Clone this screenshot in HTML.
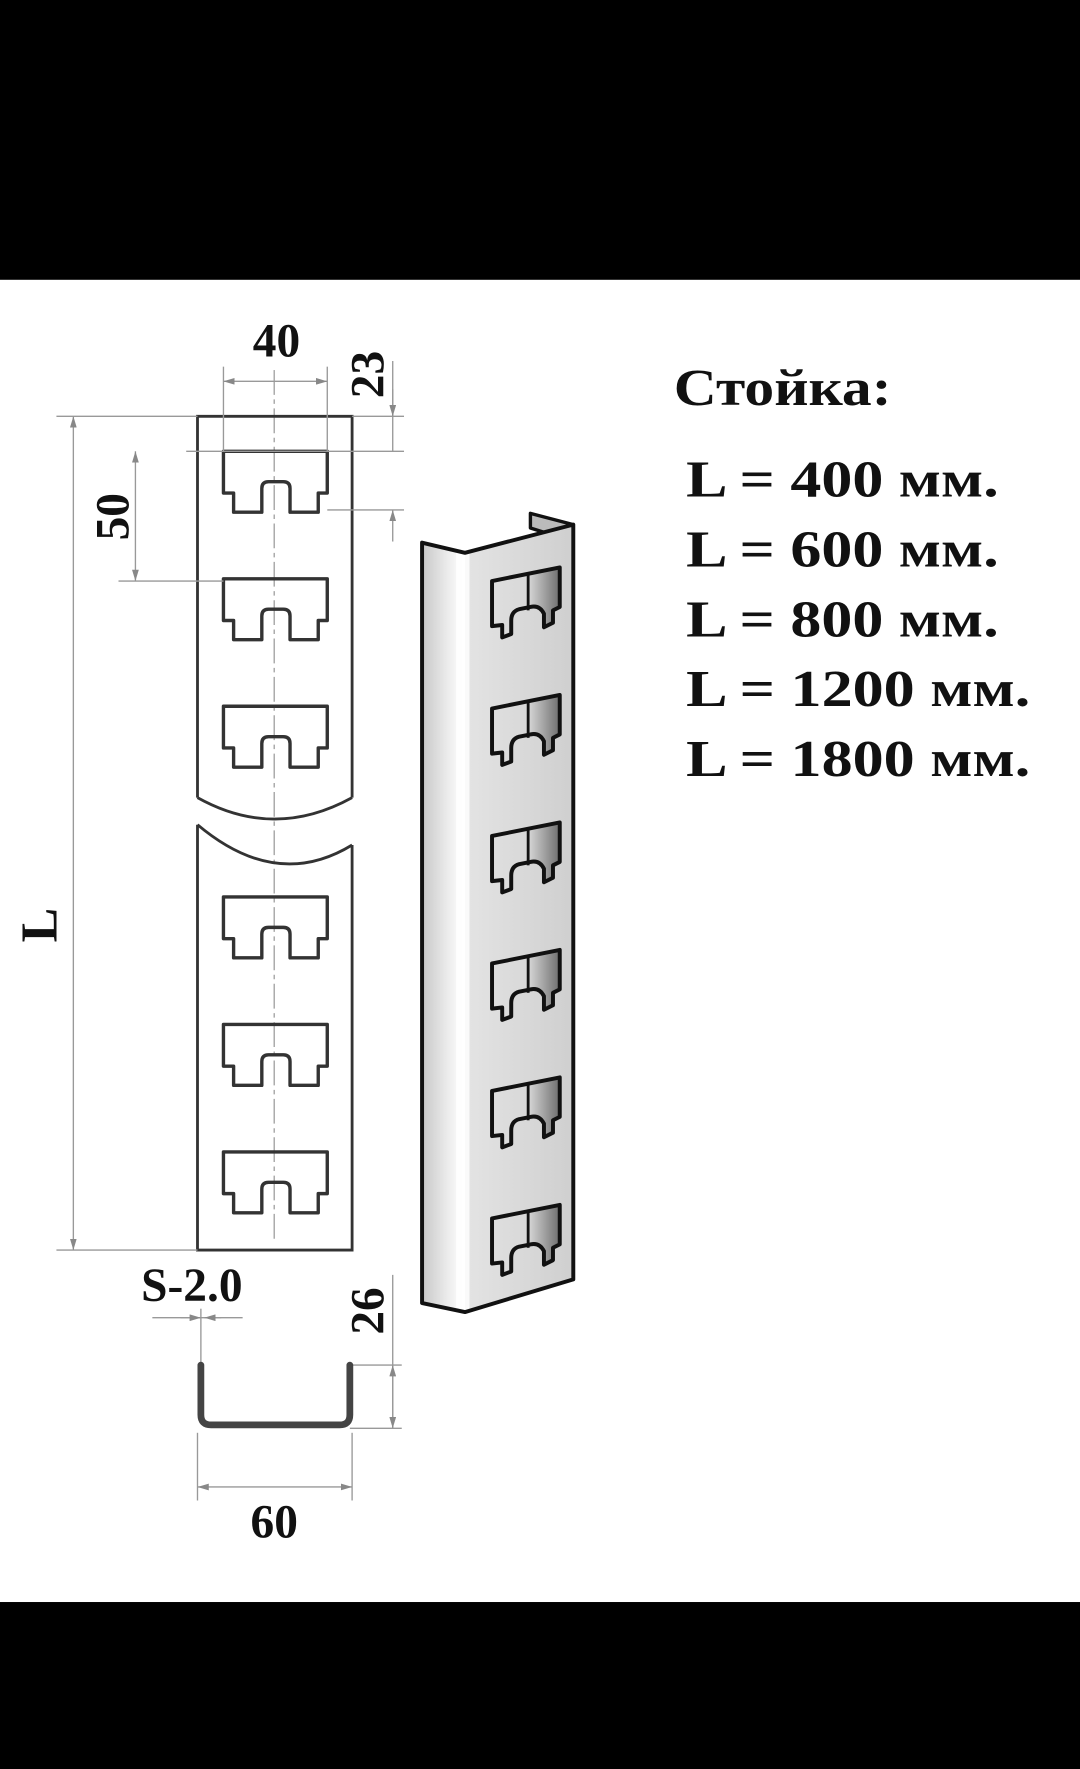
<!DOCTYPE html>
<html><head><meta charset="utf-8"><style>
html,body{margin:0;padding:0;background:#fff;}
svg{display:block;}
</style></head><body>
<svg width="1080" height="1769" viewBox="0 0 957 1568" preserveAspectRatio="none" xmlns="http://www.w3.org/2000/svg">
<defs>
<linearGradient id="gl" x1="0" x2="1"><stop offset="0" stop-color="#c8c8c8"/><stop offset="0.6" stop-color="#ececec"/><stop offset="1" stop-color="#ffffff"/></linearGradient>
<linearGradient id="gr" x1="0" x2="1"><stop offset="0" stop-color="#e4e4e4"/><stop offset="1" stop-color="#cfcfcf"/></linearGradient>
<linearGradient id="gs" x1="0" x2="1"><stop offset="0" stop-color="#d8d8d8"/><stop offset="1" stop-color="#6e6e6e"/></linearGradient>
<marker id="ar" viewBox="0 0 10 6" refX="10" refY="3" markerWidth="10" markerHeight="6" orient="auto-start-reverse" markerUnits="userSpaceOnUse"><path d="M0,0 L10,3 L0,6 Z" fill="#888"/></marker>
</defs>
<rect x="0" y="0" width="957" height="1568" fill="#fff"/>
<rect x="0" y="0" width="957" height="248" fill="#000"/>
<rect x="0" y="1420" width="957" height="148" fill="#000"/>

<line x1="243" y1="328" x2="243" y2="1100" stroke="#aaa" stroke-width="1.3" stroke-dasharray="22,4,4,4"/>

<g fill="none" stroke="#333" stroke-width="2.5">
<path d="M175,707 V369 H312 V707"/>
<path d="M175,707 Q243,745 312,707"/>
<path d="M175,731 Q245,790 312,749"/>
<path d="M175,731 V1108 H312 V749"/>
</g>
<g fill="none" stroke="#333" stroke-width="3" stroke-linejoin="round">
<path id="slot" d="M198,400 H290 V437 H282 V454 H257 V433 Q257,427 251,427 H238 Q232,427 232,433 V454 H207 V437 H198 Z"/>
<use href="#slot" y="113"/>
<use href="#slot" y="226"/>
<use href="#slot" y="395"/>
<use href="#slot" y="508"/>
<use href="#slot" y="621"/>
</g>

<g stroke="#999" stroke-width="1.2" fill="none">
<line x1="198" y1="325" x2="198" y2="400"/><line x1="290" y1="325" x2="290" y2="400"/>
<line x1="198" y1="338" x2="290" y2="338" marker-start="url(#ar)" marker-end="url(#ar)"/>
<line x1="312" y1="369" x2="358" y2="369"/>
<line x1="165" y1="400" x2="358" y2="400"/>
<line x1="290" y1="452" x2="358" y2="452"/>
<line x1="348" y1="320" x2="348" y2="369"/>
<line x1="348" y1="345" x2="348" y2="369" marker-end="url(#ar)"/>
<line x1="348" y1="369" x2="348" y2="400"/>
<line x1="348" y1="480" x2="348" y2="452" marker-end="url(#ar)"/>
<line x1="105" y1="515" x2="198" y2="515"/>
<line x1="120" y1="400" x2="120" y2="515" marker-start="url(#ar)" marker-end="url(#ar)"/>
<line x1="50" y1="369" x2="175" y2="369"/>
<line x1="50" y1="1108" x2="175" y2="1108"/>
<line x1="65" y1="369" x2="65" y2="1108" marker-start="url(#ar)" marker-end="url(#ar)"/>
<line x1="135" y1="1168" x2="215" y2="1168"/>
<line x1="160" y1="1168" x2="178" y2="1168" marker-end="url(#ar)"/>
<line x1="196" y1="1168" x2="181" y2="1168" marker-end="url(#ar)"/>
<line x1="178" y1="1160" x2="178" y2="1210"/>
<line x1="310" y1="1210" x2="356" y2="1210"/>
<line x1="310" y1="1266" x2="356" y2="1266"/>
<line x1="348" y1="1130" x2="348" y2="1266"/>
<line x1="348" y1="1210" x2="348" y2="1266" marker-start="url(#ar)" marker-end="url(#ar)"/>
<line x1="175" y1="1270" x2="175" y2="1330"/><line x1="312" y1="1270" x2="312" y2="1330"/>
<line x1="175" y1="1318" x2="312" y2="1318" marker-start="url(#ar)" marker-end="url(#ar)"/>
</g>
<path d="M178,1210 V1254 Q178,1263 187,1263 H301 Q310,1263 310,1254 V1210" fill="none" stroke="#444" stroke-width="6" stroke-linecap="round"/>

<g font-family="Liberation Serif, serif" font-weight="bold" fill="#111">
<text x="245" y="316" font-size="42" text-anchor="middle">40</text>
<text transform="translate(340,332) rotate(-90)" font-size="42" text-anchor="middle">23</text>
<text transform="translate(114,458) rotate(-90)" font-size="42" text-anchor="middle">50</text>
<text transform="translate(50,820) rotate(-90)" font-size="46" text-anchor="middle">L</text>
<text x="170" y="1153" font-size="42" text-anchor="middle">S-2.0</text>
<text transform="translate(340,1162) rotate(-90)" font-size="42" text-anchor="middle">26</text>
<text x="243" y="1363" font-size="42" text-anchor="middle">60</text>
<text x="597" y="359" font-size="46" textLength="193" lengthAdjust="spacingAndGlyphs">Стойка:</text>
<text x="608" y="440" font-size="46" textLength="277" lengthAdjust="spacingAndGlyphs">L = 400 мм.</text>
<text x="608" y="502" font-size="46" textLength="277" lengthAdjust="spacingAndGlyphs">L = 600 мм.</text>
<text x="608" y="564" font-size="46" textLength="277" lengthAdjust="spacingAndGlyphs">L = 800 мм.</text>
<text x="608" y="626" font-size="46" textLength="305" lengthAdjust="spacingAndGlyphs">L = 1200 мм.</text>
<text x="608" y="688" font-size="46" textLength="305" lengthAdjust="spacingAndGlyphs">L = 1800 мм.</text>
</g>

<path d="M470,468 L470,455 L508,465 L508,480 Z" fill="#bbb" stroke="#111" stroke-width="3" stroke-linejoin="round"/>
<path d="M374,481 L412,490 V1163 L374,1155 Z" fill="url(#gl)"/>
<path d="M412,490 L508,465 V1134 L412,1163 Z" fill="url(#gr)"/>
<rect x="404" y="489" width="12" height="673" fill="#fff" opacity="0.8"/>
<path d="M374,1155 V481 L412,490 L508,465 V1134 L412,1163 Z" fill="none" stroke="#111" stroke-width="3.5" stroke-linejoin="round"/>
<g stroke="#111" stroke-width="3.5" stroke-linejoin="round">
<g id="ps">
<path d="M468,508 L496,503 V538 L490,541 V552 L482,556 V544 Q478,538 472,540 L468,541 Z" fill="url(#gs)" stroke="none"/>
<path d="M436,515 L496,503 V538 L490,541 V552 L482,556 V544 Q478,536 470,538 L460,540 Q453,542 453,550 V562 L445,565 V554 L436,555 Z" fill="none"/>
<line x1="468" y1="509" x2="468" y2="541" stroke-width="2.5"/>
</g>
<use href="#ps" y="113"/>
<use href="#ps" y="226"/>
<use href="#ps" y="339"/>
<use href="#ps" y="452"/>
<use href="#ps" y="565"/>
</g>
</svg>
</body></html>
